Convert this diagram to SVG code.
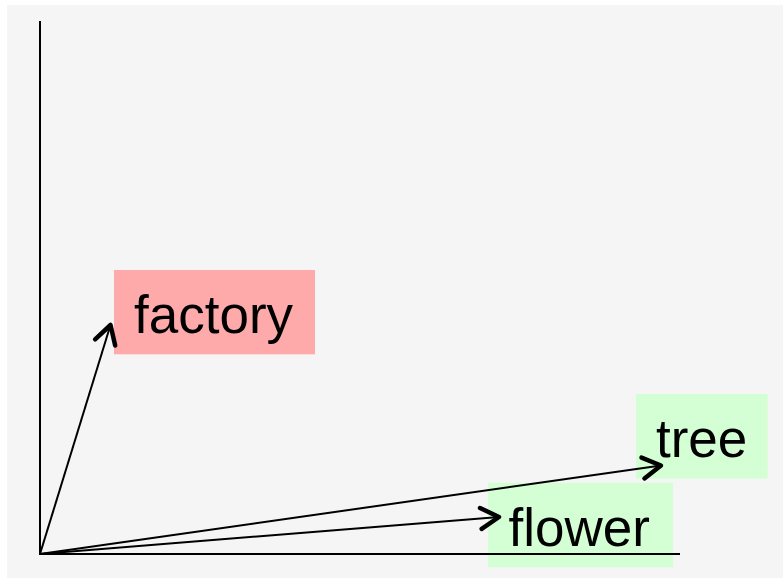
<svg xmlns="http://www.w3.org/2000/svg" width="783" height="579" viewBox="0 0 783 579">
  <style>
    .lbl { font-family: "Liberation Sans", Arial, sans-serif; font-size: 53px; fill: #000000; }
    .red { fill: #ffaaaa; }
    .green { fill: #d4ffd4; }
    .axis { stroke: #000000; stroke-width: 2; fill: none; }
    .conn { stroke: #000000; stroke-width: 2; fill: none; marker-end: url(#chev); }
  </style>
  <defs>
    <marker id="chev" markerUnits="userSpaceOnUse" orient="auto" refX="0" refY="0" markerWidth="60" markerHeight="60" overflow="visible">
      <path d="M -18.2 -10.5 L 0 0 L -18.2 10.5" fill="none" stroke="#000000" stroke-width="4.5" stroke-linecap="round" stroke-linejoin="round"/>
    </marker>
  </defs>
  <rect x="7" y="5" width="776" height="573" fill="#f5f5f5"/>
  <g id="factory">
    <rect class="red" x="114" y="270" width="201" height="84.3"/>
  </g>
  <g id="tree">
    <rect class="green" x="636" y="394" width="131.7" height="84.5"/>
  </g>
  <g id="flower">
    <rect class="green" x="488" y="482.7" width="185" height="84.6"/>
  </g>
  <g id="axes">
    <line class="axis" x1="40" y1="21" x2="40" y2="555"/>
    <line class="axis" x1="39" y1="554" x2="680" y2="554"/>
  </g>
  <g id="connectors">
    <line class="conn" x1="40" y1="554" x2="110.5" y2="325"/>
    <line class="conn" x1="40" y1="554" x2="661" y2="465.5"/>
    <line class="conn" x1="40" y1="554" x2="499" y2="517"/>
  </g>
  <g id="labels">
    <text class="lbl" x="134" y="332.7">factory</text>
    <text class="lbl" x="656" y="456.7">tree</text>
    <text class="lbl" x="508.5" y="546">flower</text>
  </g>
</svg>
